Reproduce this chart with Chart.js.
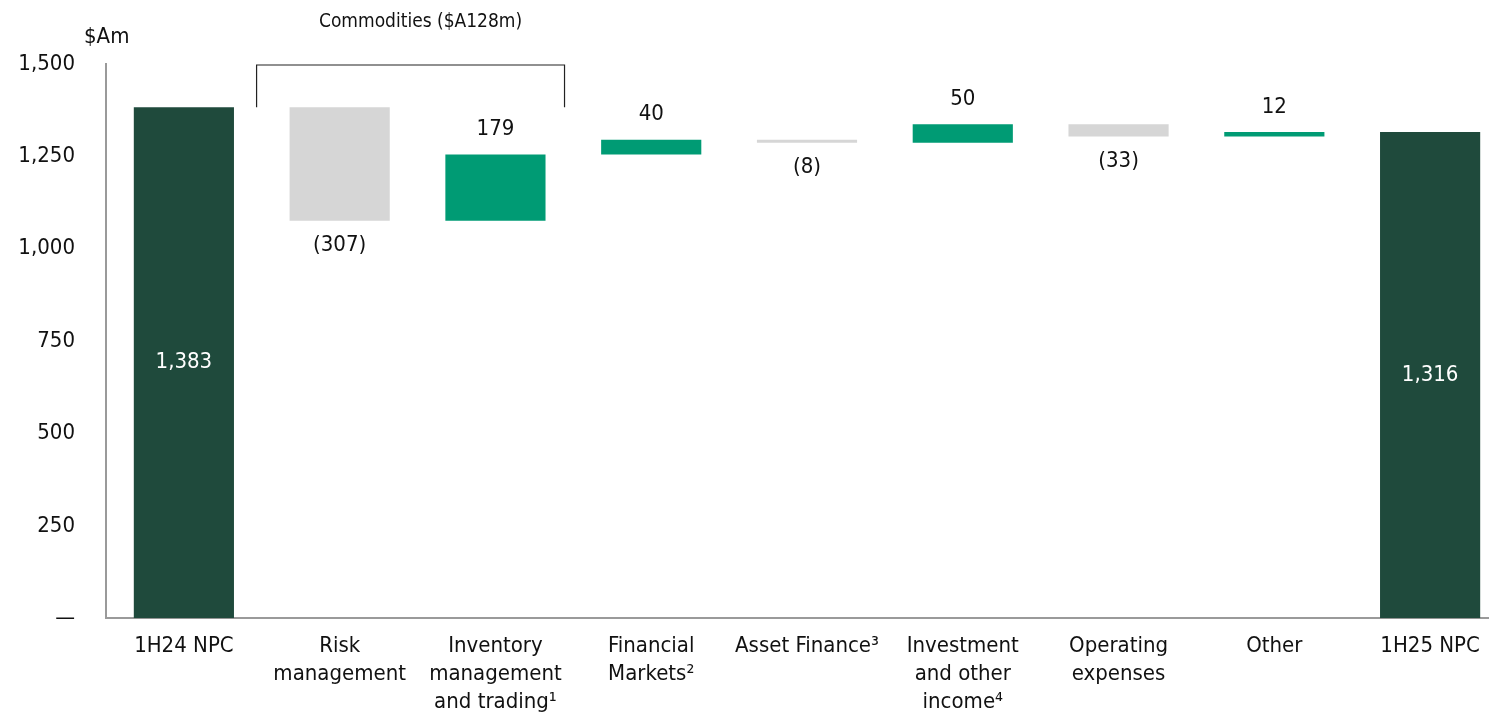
<!DOCTYPE html>
<html>
<head>
<meta charset="utf-8">
<script src="https://cdn.jsdelivr.net/npm/chart.js@4.4.1/dist/chart.umd.min.js"></script>
<style>
  html, body { margin: 0; padding: 0; background: #fff; overflow: hidden; }
  #wrap { width: 1508px; height: 730px; }
</style>
</head>
<body>
<div id="wrap"><canvas id="npcBridge"></canvas></div>
<script>
// data
const categories = [
  "1H24 NPC",
  ["Risk", "management"],
  ["Inventory", "management", "and trading\u00B9"],
  ["Financial", "Markets\u00B2"],
  "Asset Finance\u00B3",
  ["Investment", "and other", "income\u2074"],
  ["Operating", "expenses"],
  "Other",
  "1H25 NPC",
];
const startTotal = 1383;
const movements = [-307, 179, 40, -8, 50, -33, 12];
const endTotal = 1316;
const yTicks = [0, 250, 500, 750, 1000, 1250, 1500];

const FONT = "'Liberation Sans Narrow', 'DejaVu Sans Condensed', 'Open Sans', sans-serif";
const DARK = "#1f4a3c";
const GREEN = "#009b74";
const GREY = "#d6d6d6";

// floating bars built from the movements
const ranges = [[0, startTotal]];
const colors = [DARK];
const kinds = ["total"];
let running = startTotal;
movements.forEach((m) => {
  const next = running + m;
  ranges.push([Math.min(running, next), Math.max(running, next)]);
  colors.push(m >= 0 ? GREEN : GREY);
  kinds.push(m >= 0 ? "up" : "down");
  running = next;
});
ranges.push([0, endTotal]);
colors.push(DARK);
kinds.push("total");
const shownValues = [startTotal, ...movements, endTotal];

function fmt(v) {
  const s = Math.abs(v).toLocaleString("en-US");
  return v < 0 ? "(" + s + ")" : s;
}

// labels, bracket and unit text
const extras = {
  id: "extras",
  afterDatasetsDraw(chart) {
    const ctx = chart.ctx;
    const meta = chart.getDatasetMeta(0);
    const y = chart.scales.y;
    ctx.save();
    ctx.font = "22px " + FONT;
    ctx.textAlign = "center";
    ctx.textBaseline = "middle";
    meta.data.forEach((bar, i) => {
      const top = Math.min(bar.y, bar.base);
      const bottom = Math.max(bar.y, bar.base);
      if (kinds[i] === "total") {
        ctx.fillStyle = "#ffffff";
        ctx.fillText(fmt(shownValues[i]), bar.x, (top + bottom) / 2);
      } else if (kinds[i] === "up") {
        ctx.fillStyle = "#111";
        ctx.fillText(fmt(shownValues[i]), bar.x, top - 25);
      } else {
        ctx.fillStyle = "#111";
        ctx.fillText(fmt(shownValues[i]), bar.x, bottom + 25);
      }
    });

    // commodities bracket over risk + inventory
    const b1 = meta.data[1];
    const b2 = meta.data[2];
    const left = b1.x - b1.width / 2 - 33;
    const right = b2.x + b2.width / 2 + 19;
    const yTop = y.getPixelForValue(1500) + 1;
    const yBot = y.getPixelForValue(startTotal);
    ctx.strokeStyle = "#222";
    ctx.lineWidth = 1.2;
    ctx.beginPath();
    ctx.moveTo(left, yBot);
    ctx.lineTo(left, yTop);
    ctx.lineTo(right, yTop);
    ctx.lineTo(right, yBot);
    ctx.stroke();
    ctx.font = "19px " + FONT;
    ctx.fillStyle = "#111";
    ctx.fillText("Commodities ($A128m)", (left + right) / 2 + 10, 22);

    // unit
    ctx.font = "22px " + FONT;
    ctx.textAlign = "left";
    ctx.fillText("$Am", 84, 37);
    ctx.restore();
  },
};

const npcBridge = document.getElementById("npcBridge");

new Chart(npcBridge, {
  type: "bar",
  data: {
    labels: categories,
    datasets: [
      {
        data: ranges,
        backgroundColor: colors,
        borderWidth: 0,
        barPercentage: 0.643,
        categoryPercentage: 1,
      },
    ],
  },
  options: {
    responsive: true,
    maintainAspectRatio: false,
    animation: false,
    layout: { padding: { top: 64, left: 0, right: 0, bottom: 0 } },
    plugins: {
      legend: { display: false },
      tooltip: { enabled: false },
    },
    scales: {
      x: {
        grid: { display: false, drawTicks: false },
        border: { display: true, color: "#9a9a9a", width: 2 },
        ticks: {
          color: "#111",
          font: { family: FONT, size: 22, lineHeight: 1.27 },
          padding: 14,
          maxRotation: 0,
          autoSkip: false,
        },
      },
      y: {
        min: 0,
        max: 1500,
        afterBuildTicks(scale) {
          scale.ticks = yTicks.map((v) => ({ value: v }));
        },
        afterFit(scale) {
          scale.width = 106;
        },
        grid: { display: false, drawTicks: false },
        border: { display: true, color: "#9a9a9a", width: 2 },
        ticks: {
          color: "#111",
          font: { family: FONT, size: 22 },
          padding: 31,
          callback: (v) => (v === 0 ? "\u2014" : v.toLocaleString("en-US")),
        },
      },
    },
  },
  plugins: [extras],
});
</script>
</body>
</html>
